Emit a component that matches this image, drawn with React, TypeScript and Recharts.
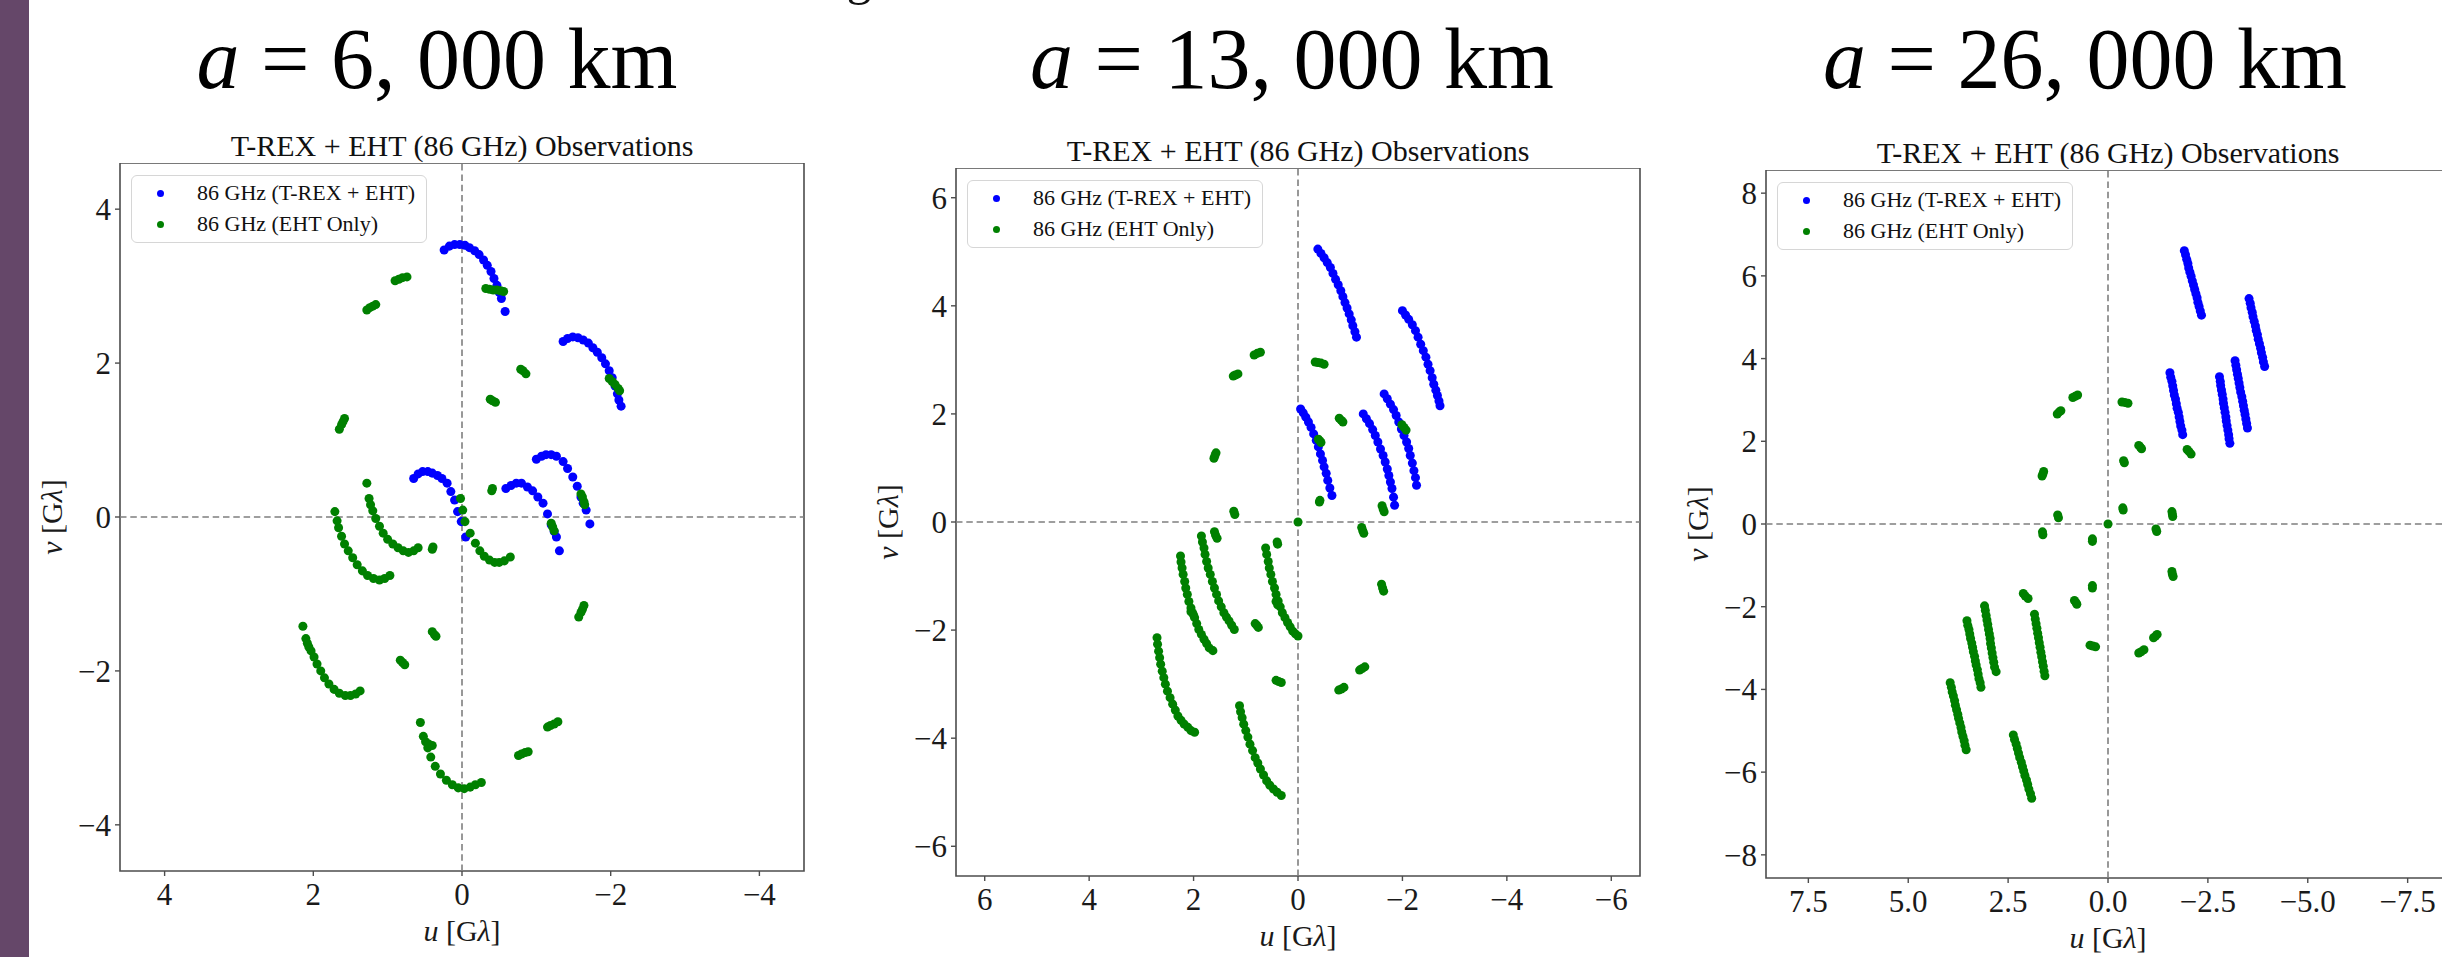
import {
  Legend,
  ReferenceArea,
  ReferenceLine,
  Scatter,
  ScatterChart,
  XAxis,
  YAxis,
  ZAxis,
} from "recharts";

type Pt = [number, number];

const SERIF = '"Liberation Serif", "Times New Roman", serif';
const SPINE = "#4d4d4d";

const orbitTitles = ["6, 000", "13, 000", "26, 000"];
const subTitle = "T-REX + EHT (86 GHz) Observations";
const seriesNames = ["86 GHz (T-REX + EHT)", "86 GHz (EHT Only)"];
const seriesColors = ["#0000ff", "#008000"];

const ticks6000 = [-4, -2, 0, 2, 4];
const ticks13000 = [-6, -4, -2, 0, 2, 4, 6];
const uTicks26000 = [-7.5, -5, -2.5, 0, 2.5, 5, 7.5];
const vTicks26000 = [-8, -6, -4, -2, 0, 2, 4, 6, 8];

// ---- a = 6,000 km : (u, v) in G-lambda ----
const blue6000: Pt[] = [
  [0.24, 3.47], [0.17, 3.52], [0.1, 3.54], [0.03, 3.54], [-0.04, 3.53], [-0.1, 3.5],
  [-0.17, 3.46], [-0.23, 3.41], [-0.29, 3.34], [-0.34, 3.27], [-0.39, 3.19], [-0.43, 3.1],
  [-0.47, 3.01], [-0.5, 2.92], [-0.53, 2.84], [-0.58, 2.67],
  [-1.36, 2.28], [-1.42, 2.32], [-1.49, 2.34], [-1.56, 2.33], [-1.63, 2.3], [-1.7, 2.26],
  [-1.76, 2.2], [-1.82, 2.14], [-1.88, 2.07], [-1.93, 1.99], [-1.98, 1.9], [-2.02, 1.81],
  [-2.06, 1.7], [-2.09, 1.6], [-2.11, 1.52], [-2.14, 1.44],
  [0.65, 0.5], [0.59, 0.56], [0.53, 0.59], [0.46, 0.59], [0.4, 0.57], [0.33, 0.54],
  [0.27, 0.5], [0.2, 0.44], [0.15, 0.33], [0.1, 0.22], [0.06, 0.07], [0.01, -0.06], [-0.05, -0.26],
  [-0.59, 0.37], [-0.66, 0.41], [-0.73, 0.44], [-0.8, 0.44], [-0.88, 0.39], [-0.95, 0.34],
  [-1.02, 0.26], [-1.09, 0.18], [-1.15, 0.04], [-1.2, -0.1], [-1.24, -0.19], [-1.27, -0.26], [-1.31, -0.44],
  [-1.0, 0.75], [-1.07, 0.79], [-1.13, 0.81], [-1.2, 0.81], [-1.27, 0.79], [-1.36, 0.72],
  [-1.42, 0.63], [-1.49, 0.52], [-1.55, 0.4], [-1.6, 0.26], [-1.63, 0.18], [-1.67, 0.09], [-1.72, -0.09],
];

const green6000: Pt[] = [
  [1.28, 2.69], [1.24, 2.72], [1.2, 2.74], [1.16, 2.76],
  [0.9, 3.07], [0.85, 3.09], [0.8, 3.11], [0.74, 3.12],
  [-0.32, 2.97], [-0.37, 2.96], [-0.42, 2.95], [-0.47, 2.95], [-0.52, 2.94], [-0.56, 2.93],
  [-0.79, 1.92], [-0.82, 1.9], [-0.86, 1.86],
  [-0.38, 1.53], [-0.41, 1.51], [-0.45, 1.49],
  [-1.98, 1.8], [-2.02, 1.76], [-2.06, 1.72], [-2.1, 1.67], [-2.12, 1.64],
  [1.65, 1.14], [1.62, 1.2], [1.6, 1.24], [1.58, 1.28],
  [-0.41, 0.37], [-0.4, 0.34],
  [-1.6, 0.3], [-1.62, 0.26], [-1.64, 0.2], [-1.65, 0.16],
  [-1.2, -0.08], [-1.22, -0.13], [-1.24, -0.18],
  [0.39, -0.39], [0.4, -0.42],
  [1.28, 0.44], [1.25, 0.24], [1.23, 0.16], [1.2, 0.08], [1.16, -0.02], [1.11, -0.12],
  [1.06, -0.21], [1.0, -0.29], [0.93, -0.35], [0.86, -0.4], [0.79, -0.44], [0.72, -0.46],
  [0.65, -0.44], [0.59, -0.4],
  [1.71, 0.07], [1.68, -0.05], [1.66, -0.14], [1.62, -0.25], [1.58, -0.35], [1.53, -0.44],
  [1.47, -0.53], [1.41, -0.62], [1.34, -0.7], [1.27, -0.76], [1.19, -0.8], [1.11, -0.82],
  [1.04, -0.8], [0.97, -0.76],
  [0.02, 0.24], [-0.01, 0.09], [-0.04, -0.06], [-0.11, -0.21], [-0.18, -0.34], [-0.24, -0.44],
  [-0.3, -0.51], [-0.37, -0.56], [-0.44, -0.59], [-0.5, -0.59], [-0.57, -0.57], [-0.65, -0.52],
  [-1.57, -1.3], [-1.6, -1.24], [-1.62, -1.2], [-1.64, -1.15],
  [0.4, -1.49], [0.37, -1.53], [0.35, -1.55],
  [0.83, -1.86], [0.8, -1.89], [0.77, -1.92],
  [2.14, -1.42], [2.1, -1.58], [2.08, -1.64], [2.06, -1.69], [2.03, -1.74], [1.99, -1.82],
  [1.95, -1.91], [1.9, -2.0], [1.85, -2.09], [1.79, -2.17], [1.72, -2.24], [1.65, -2.29],
  [1.57, -2.32], [1.5, -2.32], [1.43, -2.3], [1.37, -2.26],
  [0.56, -2.67], [0.52, -2.85], [0.49, -2.92], [0.45, -2.95], [0.4, -2.97], [0.46, -3.0],
  [0.42, -3.12], [0.36, -3.24], [0.29, -3.34], [0.21, -3.42], [0.13, -3.48], [0.05, -3.52],
  [-0.03, -3.53], [-0.11, -3.51], [-0.18, -3.48], [-0.26, -3.45],
  [-0.76, -3.1], [-0.8, -3.08], [-0.85, -3.06], [-0.89, -3.05],
  [-1.15, -2.73], [-1.19, -2.71], [-1.24, -2.69], [-1.29, -2.66],
];

// ---- a = 13,000 km ----
const blue13000: Pt[] = [
  [-0.38, 5.05], [-0.44, 4.97], [-0.5, 4.89], [-0.56, 4.8], [-0.62, 4.71], [-0.67, 4.6],
  [-0.72, 4.49], [-0.77, 4.39], [-0.82, 4.28], [-0.86, 4.17], [-0.9, 4.06], [-0.94, 3.96],
  [-0.98, 3.85], [-1.02, 3.74], [-1.05, 3.63], [-1.09, 3.52], [-1.12, 3.42],
  [-2.0, 3.91], [-2.06, 3.83], [-2.12, 3.75], [-2.19, 3.65], [-2.25, 3.54], [-2.3, 3.42],
  [-2.35, 3.29], [-2.4, 3.17], [-2.45, 3.05], [-2.49, 2.92], [-2.53, 2.8], [-2.57, 2.67],
  [-2.6, 2.55], [-2.64, 2.44], [-2.67, 2.34], [-2.7, 2.24], [-2.72, 2.15],
  [-0.05, 2.09], [-0.1, 2.02], [-0.15, 1.94], [-0.2, 1.85], [-0.25, 1.75], [-0.3, 1.63],
  [-0.35, 1.51], [-0.39, 1.39], [-0.43, 1.26], [-0.47, 1.14], [-0.5, 1.02], [-0.54, 0.9],
  [-0.57, 0.77], [-0.61, 0.63], [-0.65, 0.49],
  [-1.25, 2.0], [-1.31, 1.91], [-1.37, 1.82], [-1.43, 1.71], [-1.48, 1.6], [-1.53, 1.48],
  [-1.58, 1.35], [-1.63, 1.23], [-1.67, 1.11], [-1.71, 0.98], [-1.74, 0.86], [-1.77, 0.74],
  [-1.8, 0.62], [-1.83, 0.46], [-1.85, 0.31],
  [-1.65, 2.37], [-1.71, 2.28], [-1.77, 2.18], [-1.83, 2.08], [-1.88, 1.97], [-1.93, 1.85],
  [-1.98, 1.72], [-2.03, 1.6], [-2.08, 1.48], [-2.12, 1.36], [-2.15, 1.23], [-2.19, 1.09],
  [-2.22, 0.95], [-2.25, 0.82], [-2.27, 0.68],
];

const green13000: Pt[] = [
  [1.24, 2.7], [1.2, 2.72], [1.15, 2.74],
  [0.84, 3.09], [0.78, 3.12], [0.72, 3.14],
  [-0.33, 2.96], [-0.38, 2.95], [-0.44, 2.94], [-0.5, 2.92],
  [-0.79, 1.92], [-0.83, 1.88], [-0.86, 1.85],
  [-0.39, 1.53], [-0.42, 1.5], [-0.44, 1.47],
  [-1.99, 1.8], [-2.03, 1.75], [-2.07, 1.7],
  [1.61, 1.18], [1.59, 1.23], [1.57, 1.28],
  [-0.41, 0.37], [-0.42, 0.4],
  [-1.61, 0.3], [-1.63, 0.24], [-1.65, 0.19],
  [1.23, 0.2], [1.21, 0.14],
  [0, 0],
  [-1.22, -0.1], [-1.24, -0.16], [-1.26, -0.21],
  [1.6, -0.18], [1.58, -0.24], [1.55, -0.3],
  [0.4, -0.37], [0.39, -0.41],
  [-1.6, -1.15], [-1.62, -1.22], [-1.64, -1.28],
  [0.82, -1.88], [0.79, -1.91], [0.76, -1.95],
  [0.42, -2.93], [0.37, -2.95], [0.32, -2.97],
  [-0.78, -3.11], [-0.83, -3.09], [-0.88, -3.06],
  [-1.18, -2.74], [-1.23, -2.71], [-1.28, -2.68],
  [2.05, -1.66], [2.0, -1.72],
  [0.42, -1.47], [0.39, -1.53],
  [2.25, -0.63], [2.24, -0.74], [2.22, -0.85], [2.2, -0.97], [2.17, -1.1], [2.15, -1.22],
  [2.12, -1.34], [2.09, -1.47], [2.05, -1.59], [2.02, -1.68], [1.98, -1.77], [1.94, -1.88],
  [1.9, -1.99], [1.85, -2.08], [1.8, -2.17], [1.75, -2.25], [1.7, -2.33], [1.63, -2.38],
  [1.85, -0.26], [1.83, -0.37], [1.8, -0.48], [1.78, -0.6], [1.75, -0.73], [1.72, -0.85],
  [1.68, -0.97], [1.64, -1.1], [1.6, -1.22], [1.56, -1.34], [1.52, -1.46], [1.47, -1.57],
  [1.42, -1.68], [1.37, -1.76], [1.32, -1.83], [1.27, -1.91], [1.22, -1.99],
  [0.62, -0.48], [0.6, -0.6], [0.57, -0.73], [0.55, -0.85], [0.52, -0.97], [0.49, -1.1],
  [0.45, -1.22], [0.42, -1.34], [0.38, -1.46], [0.34, -1.57], [0.3, -1.68], [0.25, -1.77],
  [0.2, -1.86], [0.15, -1.94], [0.1, -2.02], [0.05, -2.07], [0.0, -2.11],
  [2.7, -2.14], [2.69, -2.26], [2.67, -2.39], [2.65, -2.51], [2.63, -2.63], [2.6, -2.76],
  [2.57, -2.88], [2.54, -3.0], [2.5, -3.13], [2.45, -3.25], [2.4, -3.37], [2.35, -3.48],
  [2.3, -3.59], [2.24, -3.67], [2.18, -3.74], [2.11, -3.8], [2.05, -3.86], [1.98, -3.89],
  [1.12, -3.4], [1.1, -3.51], [1.07, -3.62], [1.04, -3.74], [1.0, -3.86], [0.96, -3.98],
  [0.92, -4.11], [0.87, -4.23], [0.82, -4.36], [0.77, -4.46], [0.72, -4.57], [0.66, -4.68],
  [0.6, -4.79], [0.54, -4.87], [0.47, -4.94], [0.4, -5.0], [0.32, -5.06],
];

// ---- a = 26,000 km ----
const blue26000: Pt[] = [
  [-1.91, 6.61], [-1.94, 6.51], [-1.97, 6.4], [-2.0, 6.3], [-2.02, 6.19], [-2.05, 6.09],
  [-2.08, 5.99], [-2.11, 5.88], [-2.14, 5.78], [-2.17, 5.67], [-2.2, 5.57], [-2.23, 5.47],
  [-2.25, 5.36], [-2.28, 5.26], [-2.31, 5.15], [-2.34, 5.05],
  [-3.53, 5.45], [-3.56, 5.34], [-3.58, 5.23], [-3.61, 5.12], [-3.63, 5.01], [-3.66, 4.9],
  [-3.69, 4.79], [-3.71, 4.68], [-3.74, 4.58], [-3.76, 4.47], [-3.79, 4.36], [-3.82, 4.25],
  [-3.84, 4.14], [-3.87, 4.03], [-3.89, 3.92], [-3.92, 3.81],
  [-1.55, 3.66], [-1.57, 3.55], [-1.6, 3.45], [-1.62, 3.34], [-1.64, 3.23], [-1.66, 3.12],
  [-1.69, 3.02], [-1.71, 2.91], [-1.73, 2.8], [-1.76, 2.7], [-1.78, 2.59], [-1.8, 2.48],
  [-1.82, 2.37], [-1.85, 2.27], [-1.87, 2.16],
  [-2.79, 3.56], [-2.81, 3.45], [-2.82, 3.35], [-2.84, 3.24], [-2.86, 3.13], [-2.88, 3.02],
  [-2.89, 2.92], [-2.91, 2.81], [-2.93, 2.7], [-2.95, 2.59], [-2.96, 2.49], [-2.98, 2.38],
  [-3.0, 2.27], [-3.02, 2.16], [-3.03, 2.06], [-3.05, 1.95],
  [-3.18, 3.95], [-3.2, 3.84], [-3.22, 3.73], [-3.24, 3.62], [-3.26, 3.52], [-3.28, 3.41],
  [-3.3, 3.3], [-3.32, 3.19], [-3.35, 3.08], [-3.37, 2.97], [-3.39, 2.86], [-3.41, 2.75],
  [-3.43, 2.65], [-3.45, 2.54], [-3.47, 2.43], [-3.49, 2.32],
];

const green26000: Pt[] = [
  [1.27, 2.66], [1.22, 2.71], [1.18, 2.74],
  [0.88, 3.06], [0.82, 3.09], [0.76, 3.12],
  [-0.35, 2.95], [-0.42, 2.94], [-0.5, 2.92],
  [-0.77, 1.9], [-0.81, 1.86], [-0.84, 1.82],
  [-0.39, 1.53], [-0.41, 1.48],
  [-1.98, 1.8], [-2.03, 1.75], [-2.08, 1.69],
  [1.65, 1.16], [1.63, 1.21], [1.61, 1.27],
  [-0.37, 0.39], [-0.38, 0.34],
  [-1.6, 0.3], [-1.61, 0.24], [-1.62, 0.18],
  [1.26, 0.22], [1.24, 0.15],
  [0, 0],
  [-1.2, -0.12], [-1.22, -0.18],
  [1.64, -0.19], [1.63, -0.26],
  [0.39, -0.36], [0.39, -0.42],
  [-1.6, -1.15], [-1.61, -1.21], [-1.63, -1.27],
  [0.39, -1.49], [0.39, -1.55],
  [0.84, -1.85], [0.8, -1.9], [0.78, -1.94],
  [2.12, -1.68], [2.07, -1.74], [2.0, -1.8],
  [0.45, -2.93], [0.38, -2.95], [0.31, -2.97],
  [-0.77, -3.12], [-0.83, -3.09], [-0.9, -3.04],
  [-1.14, -2.75], [-1.19, -2.71], [-1.23, -2.67],
  [3.95, -3.84], [3.92, -3.95], [3.9, -4.06], [3.87, -4.16], [3.84, -4.27], [3.82, -4.38],
  [3.79, -4.49], [3.76, -4.6], [3.74, -4.7], [3.71, -4.81], [3.68, -4.92], [3.66, -5.03],
  [3.63, -5.14], [3.6, -5.24], [3.58, -5.35], [3.55, -5.46],
  [3.53, -2.34], [3.51, -2.45], [3.48, -2.55], [3.46, -2.66], [3.44, -2.77], [3.41, -2.88],
  [3.39, -2.98], [3.37, -3.09], [3.34, -3.2], [3.32, -3.31], [3.3, -3.41], [3.27, -3.52],
  [3.25, -3.63], [3.23, -3.74], [3.2, -3.84], [3.18, -3.95],
  [3.09, -1.98], [3.07, -2.09], [3.05, -2.21], [3.03, -2.32], [3.01, -2.43], [2.99, -2.55],
  [2.97, -2.66], [2.95, -2.77], [2.94, -2.89], [2.92, -3.0], [2.9, -3.12], [2.88, -3.23],
  [2.86, -3.34], [2.84, -3.46], [2.8, -3.57],
  [1.84, -2.18], [1.82, -2.3], [1.8, -2.41], [1.78, -2.52], [1.76, -2.64], [1.74, -2.75],
  [1.72, -2.87], [1.7, -2.98], [1.68, -3.1], [1.66, -3.21], [1.64, -3.33], [1.62, -3.44],
  [1.6, -3.56], [1.58, -3.67],
  [2.37, -5.1], [2.34, -5.21], [2.3, -5.32], [2.27, -5.43], [2.24, -5.54], [2.21, -5.65],
  [2.17, -5.76], [2.14, -5.87], [2.11, -5.97], [2.08, -6.08], [2.04, -6.19], [2.01, -6.3],
  [1.98, -6.41], [1.94, -6.52], [1.91, -6.63],
];

const AXIS_W = 110;
const XAXIS_H = 90;
const PLOT_W = 684;
const PLOT_H = 708;

const panels = [
  { title: orbitTitles[0], titleX: 437, left: 120, top: 163, lim: 4.6, uTicks: ticks6000, vTicks: ticks6000, uDecimals: 0, blue: blue6000, green: green6000 },
  { title: orbitTitles[1], titleX: 1292, left: 956, top: 168, lim: 6.55, uTicks: ticks13000, vTicks: ticks13000, uDecimals: 0, blue: blue13000, green: green13000 },
  { title: orbitTitles[2], titleX: 2085, left: 1766, top: 170, lim: 8.56, uTicks: uTicks26000, vTicks: vTicks26000, uDecimals: 1, blue: blue26000, green: green26000 },
];

const toRows = (pts: Pt[]) => pts.map(([u, v]) => ({ u, v }));

const fmtTick = (decimals: number) => (val: number) => {
  const s = Math.abs(val).toFixed(decimals);
  return val < 0 ? "\u2212" + s : s;
};

const tickStyle = { fill: "#1a1a1a", fontSize: 31, fontFamily: SERIF };

function ULabel(props: any) {
  const { x, y, width, height } = props.viewBox;
  return (
    <text x={x + width / 2} y={y + height - 20} textAnchor="middle" fontSize={30} fontFamily={SERIF} fill="#1a1a1a">
      <tspan fontStyle="italic">u</tspan> [G<tspan fontStyle="italic">λ</tspan>]
    </text>
  );
}

function VLabel(props: any) {
  const { x, y, width, height } = props.viewBox;
  const cx = x + width - 69;
  const cy = y + height / 2;
  return (
    <text
      x={cx}
      y={cy}
      transform={`rotate(-90 ${cx} ${cy})`}
      textAnchor="middle"
      dominantBaseline="central"
      fontSize={30}
      fontFamily={SERIF}
      fill="#1a1a1a"
    >
      <tspan fontStyle="italic">v</tspan> [G<tspan fontStyle="italic">λ</tspan>]
    </text>
  );
}

function LegendBox({ payload }: any) {
  // keep the plotting order (blue first), whatever order recharts hands over
  const items = seriesNames.map((name, i) => {
    const hit = (payload || []).find((e: any) => e.value === name);
    return { value: name, color: (hit && hit.color) || seriesColors[i] };
  });
  return (
    <div
      style={{
        width: 296,
        height: 68,
        boxSizing: "border-box",
        border: "1.5px solid #d6d6d6",
        borderRadius: 6,
        background: "rgba(255,255,255,0.85)",
        fontFamily: SERIF,
        fontSize: 22,
        color: "#111",
        position: "relative",
      }}
    >
      {items.map((entry, i) => (
        <div
          key={entry.value}
          style={{ position: "absolute", left: 0, top: 3 + i * 31, height: 28, display: "flex", alignItems: "center", whiteSpace: "nowrap" }}
        >
          <span
            style={{
              display: "inline-block",
              width: 7,
              height: 7,
              borderRadius: "50%",
              background: entry.color,
              marginLeft: 25,
              marginRight: 33,
            }}
          />
          <span>{entry.value}</span>
        </div>
      ))}
    </div>
  );
}

function UVPanel({ p }: { p: (typeof panels)[number] }) {
  return (
    <div style={{ position: "absolute", left: p.left - AXIS_W, top: p.top }}>
      <ScatterChart
        width={AXIS_W + PLOT_W + 10}
        height={PLOT_H + XAXIS_H}
        margin={{ top: 0, right: 10, bottom: 0, left: 0 }}
      >
        <XAxis
          type="number"
          dataKey="u"
          domain={[-p.lim, p.lim]}
          reversed
          allowDataOverflow
          ticks={p.uTicks}
          interval={0}
          tickFormatter={fmtTick(p.uDecimals)}
          tickSize={5}
          tickMargin={7}
          axisLine={false}
          tickLine={{ stroke: SPINE, strokeWidth: 1.4 }}
          tick={tickStyle}
          height={XAXIS_H}
          label={ULabel}
        />
        <YAxis
          type="number"
          dataKey="v"
          domain={[-p.lim, p.lim]}
          allowDataOverflow
          ticks={p.vTicks}
          interval={0}
          tickFormatter={fmtTick(0)}
          tickSize={5}
          tickMargin={4}
          axisLine={false}
          tickLine={{ stroke: SPINE, strokeWidth: 1.4 }}
          tick={tickStyle}
          width={AXIS_W}
          label={VLabel}
        />
        <ZAxis type="number" range={[34, 34]} />
        <ReferenceLine x={0} stroke="#7f7f7f" strokeWidth={1.6} strokeDasharray="6.5 3.8" />
        <ReferenceLine y={0} stroke="#7f7f7f" strokeWidth={1.6} strokeDasharray="6.5 3.8" />
        <ReferenceArea
          x1={-p.lim}
          x2={p.lim}
          y1={-p.lim}
          y2={p.lim}
          fill="none"
          stroke={SPINE}
          strokeWidth={1.6}
          ifOverflow="visible"
        />
        <Scatter name={seriesNames[0]} data={toRows(p.blue)} fill={seriesColors[0]} isAnimationActive={false} />
        <Scatter name={seriesNames[1]} data={toRows(p.green)} fill={seriesColors[1]} isAnimationActive={false} />
        <Legend
          layout="vertical"
          align="center"
          verticalAlign="middle"
          wrapperStyle={{ left: AXIS_W + 11, top: 12, width: 296, height: 68 }}
          content={LegendBox}
        />
      </ScatterChart>
    </div>
  );
}

export default function App() {
  return (
    <div
      style={{
        position: "absolute",
        left: 0,
        top: 0,
        width: 2442,
        height: 957,
        overflow: "hidden",
        background: "#fff",
      }}
    >
      <div style={{ position: "absolute", left: 0, top: 0, width: 29, height: 957, background: "#654769" }} />
      <svg width={2442} height={957} style={{ position: "absolute", left: 0, top: 0 }}>
        <text x={859} y={-6} fontSize={50} textAnchor="middle" fontFamily={SERIF} fill="#111">
          g
        </text>
        {panels.map((p) => (
          <g key={p.title}>
            <text x={p.titleX} y={88} fontSize={86} textAnchor="middle" fontFamily={SERIF} fill="#000">
              <tspan fontStyle="italic">a</tspan> = {p.title} km
            </text>
            <text x={p.left + PLOT_W / 2} y={p.top - 7} fontSize={30} textAnchor="middle" fontFamily={SERIF} fill="#111">
              {subTitle}
            </text>
          </g>
        ))}
      </svg>
      {panels.map((p) => (
        <UVPanel key={p.title} p={p} />
      ))}
    </div>
  );
}
